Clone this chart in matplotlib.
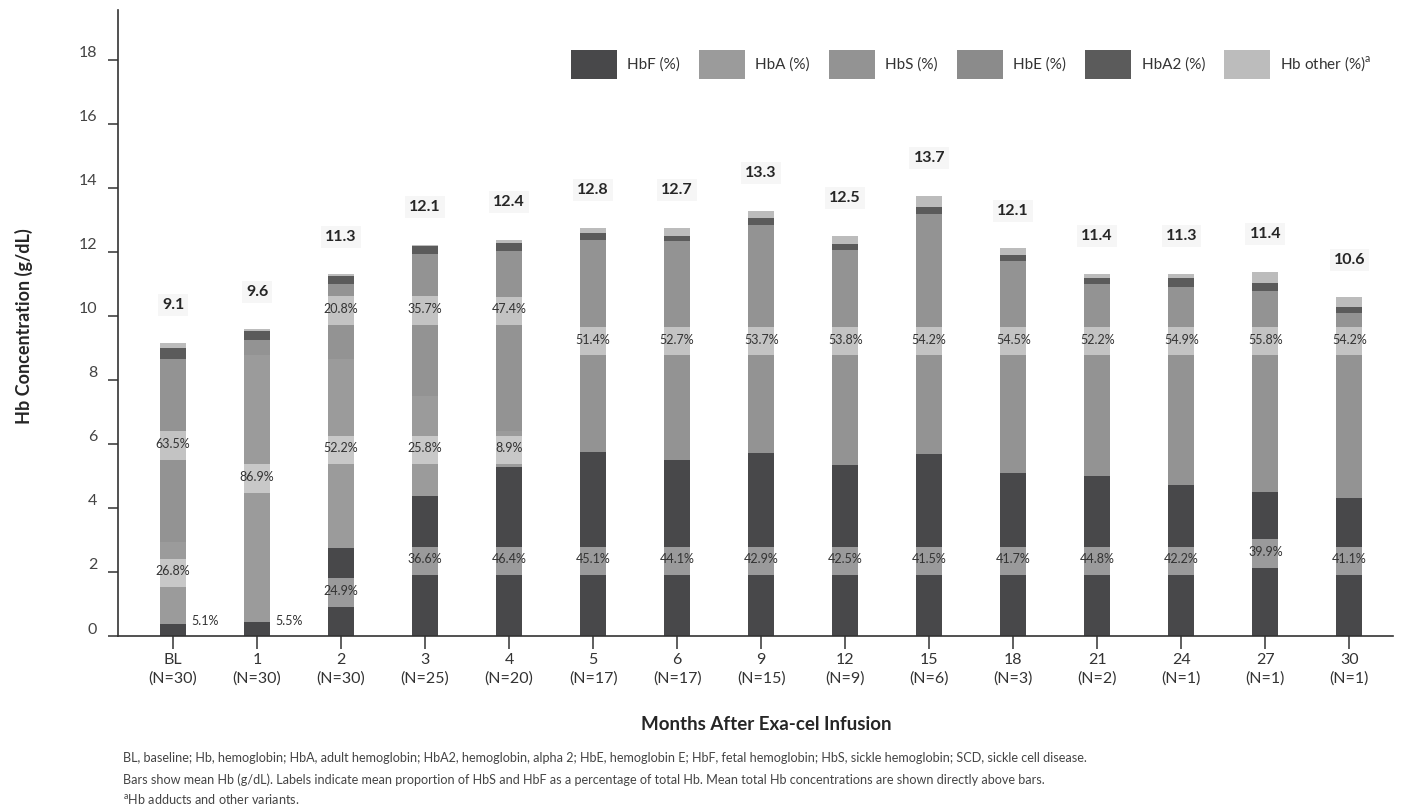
import matplotlib
matplotlib.use("Agg")
import matplotlib.pyplot as plt
from matplotlib.patches import Patch, Rectangle
from matplotlib.transforms import ScaledTranslation
import numpy as np

# ---------------- data ----------------
categories = ["BL", "1", "2", "3", "4", "5", "6", "9", "12", "15", "18", "21", "24", "27", "30"]
n_patients = [30, 30, 30, 25, 20, 17, 17, 15, 9, 6, 3, 2, 1, 1, 1]
totals = [9.1, 9.6, 11.3, 12.1, 12.4, 12.8, 12.7, 13.3, 12.5, 13.7, 12.1, 11.4, 11.3, 11.4, 10.6]

# mean concentrations (g/dL) of each component
hbf = [0.37, 0.43, 2.74, 4.38, 5.29, 5.76, 5.50, 5.71, 5.34, 5.69, 5.08, 5.00, 4.72, 4.51, 4.30]
hba = [2.58, 8.35, 5.90, 3.12, 1.11, 0, 0, 0, 0, 0, 0, 0, 0, 0, 0]
hbs = [5.70, 0.47, 2.36, 4.43, 5.64, 6.62, 6.84, 7.13, 6.72, 7.50, 6.64, 6.00, 6.18, 6.28, 5.78]
hbe = [0, 0, 0, 0, 0, 0, 0, 0, 0, 0, 0, 0, 0, 0, 0]
hba2 = [0.34, 0.28, 0.25, 0.27, 0.25, 0.22, 0.16, 0.23, 0.18, 0.21, 0.19, 0.18, 0.28, 0.25, 0.21]
hb_other = [0.18, 0.05, 0.05, 0.02, 0.08, 0.16, 0.26, 0.21, 0.27, 0.36, 0.20, 0.13, 0.13, 0.34, 0.29]

# percentage labels
hbf_pct = ["5.1%", "5.5%", "24.9%", "36.6%", "46.4%", "45.1%", "44.1%", "42.9%", "42.5%",
           "41.5%", "41.7%", "44.8%", "42.2%", "39.9%", "41.1%"]
hba_pct = ["26.8%", "86.9%", "52.2%", "25.8%", "8.9%", None, None, None, None, None,
           None, None, None, None, None]
hbs_pct = ["63.5%", None, "20.8%", "35.7%", "47.4%", "51.4%", "52.7%", "53.7%", "53.8%",
           "54.2%", "54.5%", "52.2%", "54.9%", "55.8%", "54.2%"]

series_names = ["HbF (%)", "HbA (%)", "HbS (%)", "HbE (%)", "HbA2 (%)", r"Hb other (%)$^{\mathregular{a}}$"]

# ---------------- layout / style ----------------
colors = ["#48484a", "#9b9b9b", "#939393", "#8b8b8b", "#5b5b5b", "#bcbcbc"]
hbf_label_y = [0.47, 0.47, 1.36, 2.35, 2.35, 2.35, 2.35, 2.35, 2.35, 2.35, 2.35, 2.35, 2.35, 2.58, 2.35]
hba_label_y = [1.98, 4.92, 5.81, 5.81, 5.81, None, None, None, None, None, None, None, None, None, None]
hbs_label_y = [5.95, None, 10.17, 10.17, 10.16, 9.21, 9.21, 9.21, 9.21, 9.21, 9.21, 9.21, 9.21, 9.21, 9.21]
outside_hbf = [True, True] + [False] * 13

FONT = ["Lato", "DejaVu Sans"]
plt.rcParams["font.family"] = FONT

W, H = 1401, 806
fig = plt.figure(figsize=(W / 100, H / 100), dpi=100)
ax = fig.add_axes([118 / W, 1 - 636 / H, (1393 - 118) / W, (636 - 10) / H])

x = np.arange(len(categories))
bw = 0.31
stack = [hbf, hba, hbs, hbe, hba2, hb_other]
bottom = np.zeros(len(categories))
for vals, col, name in zip(stack, colors, series_names):
    v = np.array(vals, dtype=float)
    ax.bar(x, v, bw, bottom=bottom, color=col, edgecolor="none", label=name, zorder=2)
    bottom += v
tops = bottom.copy()

box_h = 0.88
PCT_FS = 9


def boxed_label(xi, yc, txt):
    ax.add_patch(Rectangle((xi - bw / 2, yc - box_h / 2), bw, box_h, facecolor="white",
                           alpha=0.45, edgecolor="none", zorder=3))
    ax.text(xi, yc + 0.05, txt, ha="center", va="center", fontsize=PCT_FS, color="#333333", zorder=4)


for i in range(len(categories)):
    if outside_hbf[i]:
        ax.text(x[i] + 0.38, hbf_label_y[i], hbf_pct[i], ha="center", va="center",
                fontsize=PCT_FS, color="#333333", zorder=4)
    else:
        boxed_label(x[i], hbf_label_y[i], hbf_pct[i])
    if hba_pct[i] is not None:
        boxed_label(x[i], hba_label_y[i], hba_pct[i])
    if hbs_pct[i] is not None:
        boxed_label(x[i], hbs_label_y[i], hbs_pct[i])
    ax.text(x[i], tops[i] + 1.18, f"{totals[i]:.1f}", ha="center", va="center",
            fontsize=11.5, fontweight="bold", color="#262626", zorder=4,
            bbox=dict(boxstyle="square,pad=0.25", facecolor="#f6f6f6", edgecolor="none"))

ax.set_xlim(-0.655, 14.52)
ax.set_ylim(0, 19.56)
ax.set_yticks(np.arange(0, 19, 2))
ax.set_xticks(x)
ax.set_xticklabels([f"{c}\n(N={n})" for c, n in zip(categories, n_patients)],
                   linespacing=1.45)
ax.tick_params(axis="x", length=9, width=1.1, color="#333333", pad=3,
               labelsize=11.5, labelcolor="#333333")
ax.tick_params(axis="y", length=7, width=1.1, color="#333333", pad=8,
               labelsize=11.5, labelcolor="#444444")
for lab in ax.get_yticklabels():
    lab.set_transform(lab.get_transform() + ScaledTranslation(0, 8 / 100, fig.dpi_scale_trans))

for s in ["top", "right"]:
    ax.spines[s].set_visible(False)
for s in ["left", "bottom"]:
    ax.spines[s].set_color("#333333")
    ax.spines[s].set_linewidth(1.2)

# legend
handles = [Patch(facecolor=c, edgecolor="none") for c in colors]
fig.legend(handles, series_names, loc="center left", bbox_to_anchor=(571 / W, 1 - 64.5 / H),
           ncol=6, frameon=False, fontsize=11, handlelength=2.98, handleheight=2.55,
           handletextpad=0.7, columnspacing=1.25, borderpad=0, borderaxespad=0,
           labelcolor="#333333")

# axis titles
fig.text(24 / W, 1 - 326 / H, "Hb Concentration (g/dL)", rotation=90, ha="center", va="center",
         fontsize=13, fontweight="bold", color="#262626")
fig.text(766 / W, 1 - 724 / H, "Months After Exa-cel Infusion", ha="center", va="center",
         fontsize=13.5, fontweight="bold", color="#262626")

# footnotes
foot = [
    "BL, baseline; Hb, hemoglobin; HbA, adult hemoglobin; HbA2, hemoglobin, alpha 2; HbE, hemoglobin E; "
    "HbF, fetal hemoglobin; HbS, sickle hemoglobin; SCD, sickle cell disease.",
    "Bars show mean Hb (g/dL). Labels indicate mean proportion of HbS and HbF as a percentage of total Hb. "
    "Mean total Hb concentrations are shown directly above bars.",
    r"$^{\mathregular{a}}$Hb adducts and other variants.",
]
for txt, yy in zip(foot, [758, 780, 799]):
    fig.text(123 / W, 1 - yy / H, txt, ha="left", va="center", fontsize=9.05, color="#444444",
             family=["Liberation Sans Narrow", "Lato", "DejaVu Sans"])

fig.savefig("out.png", dpi=100, facecolor="white")
